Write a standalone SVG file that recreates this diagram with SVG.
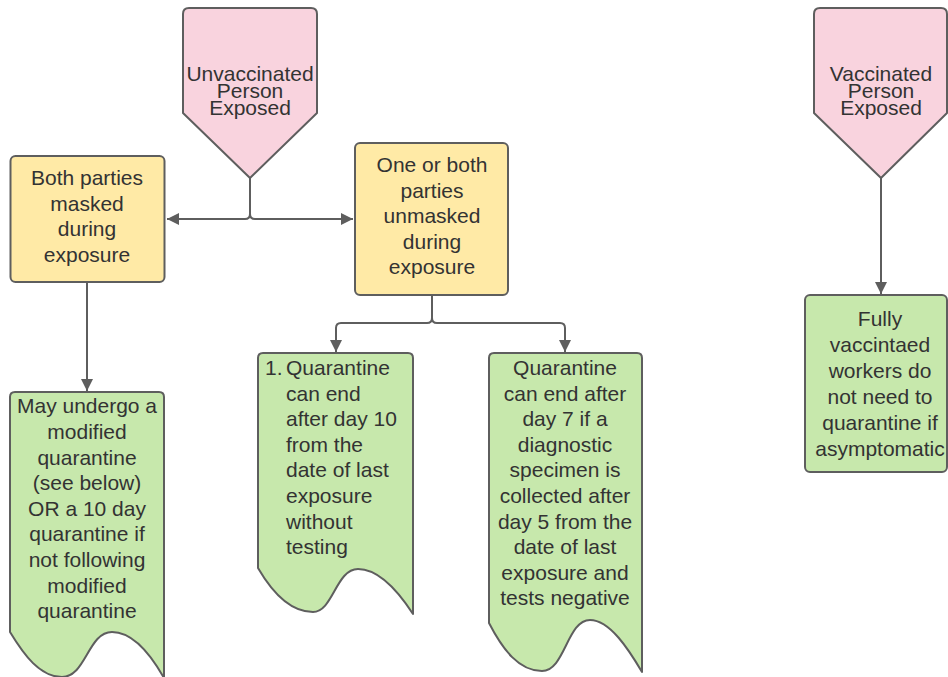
<svg xmlns="http://www.w3.org/2000/svg" width="948" height="677" viewBox="0 0 948 677">
<style>
.shape{stroke:#5e5e5e;stroke-width:2;stroke-linejoin:round}
.pink{fill:#f9d3de}
.yellow{fill:#ffeaa6}
.green{fill:#c7e8ac}
.t{font-family:"Liberation Sans",Arial,sans-serif;font-size:21px;fill:#333333;text-anchor:middle}
.tl{font-family:"Liberation Sans",Arial,sans-serif;font-size:21px;fill:#333333}
.conn{fill:none;stroke:#5e5e5e;stroke-width:2}
</style>
<defs>
<marker id="arr" markerUnits="userSpaceOnUse" markerWidth="13" markerHeight="13" refX="12" refY="6" orient="auto">
<path d="M0,0 L12,6 L0,12 z" fill="#5e5e5e"/>
</marker>
</defs>
<g id="connectors">
<path class="conn" d="M250,178 V214 Q250,219 245,219 H167" marker-end="url(#arr)"/>
<path class="conn" d="M250,178 V214 Q250,219 255,219 H353" marker-end="url(#arr)"/>
<path class="conn" d="M87,282 V391" marker-end="url(#arr)"/>
<path class="conn" d="M432,295 V318 Q432,323 427,323 H341 Q336,323 336,328 V352" marker-end="url(#arr)"/>
<path class="conn" d="M432,295 V318 Q432,323 437,323 H560 Q565,323 565,328 V352" marker-end="url(#arr)"/>
<path class="conn" d="M881,178 V294" marker-end="url(#arr)"/>
</g>
<g id="unvaccinated">
<path class="shape pink" d="M183,14 Q183,8 189,8 H311 Q317,8 317,14 V113 L250,178 L183,113 Z"/>
<text class="t" x="250" y="81">Unvaccinated</text>
<text class="t" x="250" y="98">Person</text>
<text class="t" x="250" y="115">Exposed</text>
</g>
<g id="vaccinated">
<path class="shape pink" d="M814,14 Q814,8 820,8 H941 Q947,8 947,14 V113 L881,178 L814,113 Z"/>
<text class="t" x="881" y="81">Vaccinated</text>
<text class="t" x="881" y="98">Person</text>
<text class="t" x="881" y="115">Exposed</text>
</g>
<g id="masked">
<rect class="shape yellow" x="10.5" y="156" width="154" height="126" rx="5"/>
<text class="t" x="87" y="185">Both parties</text>
<text class="t" x="87" y="210.5">masked</text>
<text class="t" x="87" y="236">during</text>
<text class="t" x="87" y="261.5">exposure</text>
</g>
<g id="unmasked">
<rect class="shape yellow" x="355" y="143" width="153" height="152" rx="5"/>
<text class="t" x="432" y="172">One or both</text>
<text class="t" x="432" y="197.5">parties</text>
<text class="t" x="432" y="223">unmasked</text>
<text class="t" x="432" y="248.5">during</text>
<text class="t" x="432" y="274">exposure</text>
</g>
<g id="modified">
<path class="shape green" d="M10,632 V397 Q10,392 15,392 H159 Q164,392 164,397 V678 C151,655 133,632 112,632 C88,632 86,677 62,677 C40,677 24,655 10,632 Z"/>
<text class="t" x="87" y="413.3">May undergo a</text>
<text class="t" x="87" y="438.9">modified</text>
<text class="t" x="87" y="464.5">quarantine</text>
<text class="t" x="87" y="490.1">(see below)</text>
<text class="t" x="87" y="515.7">OR a 10 day</text>
<text class="t" x="87" y="541.3">quarantine if</text>
<text class="t" x="87" y="566.9">not following</text>
<text class="t" x="87" y="592.5">modified</text>
<text class="t" x="87" y="618.1">quarantine</text>
</g>
<g id="day10">
<path class="shape green" d="M258,568 V358 Q258,353 263,353 H408 Q413,353 413,358 V614 C400,594 380,569 358,569 C336,569 333,612 313,612 C290,612 272,592 258,568 Z"/>
<text class="tl" x="265" y="375">1.</text>
<text class="tl" x="286" y="375">Quarantine</text>
<text class="tl" x="286" y="400.6">can end</text>
<text class="tl" x="286" y="426.2">after day 10</text>
<text class="tl" x="286" y="451.8">from the</text>
<text class="tl" x="286" y="477.4">date of last</text>
<text class="tl" x="286" y="503">exposure</text>
<text class="tl" x="286" y="528.6">without</text>
<text class="tl" x="286" y="554.2">testing</text>
</g>
<g id="day7">
<path class="shape green" d="M489,623 V358 Q489,353 494,353 H637 Q642,353 642,358 V672 C629,650 610,620 590,620 C567,620 565,671 542,671 C519,671 503,650 489,623 Z"/>
<text class="t" x="565" y="375">Quarantine</text>
<text class="t" x="565" y="400.6">can end after</text>
<text class="t" x="565" y="426.2">day 7 if a</text>
<text class="t" x="565" y="451.8">diagnostic</text>
<text class="t" x="565" y="477.4">specimen is</text>
<text class="t" x="565" y="503">collected after</text>
<text class="t" x="565" y="528.6">day 5 from the</text>
<text class="t" x="565" y="554.2">date of last</text>
<text class="t" x="565" y="579.8">exposure and</text>
<text class="t" x="565" y="605.4">tests negative</text>
</g>
<g id="fully">
<rect class="shape green" x="805" y="295" width="142" height="177" rx="5"/>
<text class="t" x="880" y="325.5">Fully</text>
<text class="t" x="880" y="351.5">vaccintaed</text>
<text class="t" x="880" y="377.5">workers do</text>
<text class="t" x="880" y="403.5">not need to</text>
<text class="t" x="880" y="429.5">quarantine if</text>
<text class="t" x="880" y="455.5">asymptomatic</text>
</g>
</svg>
